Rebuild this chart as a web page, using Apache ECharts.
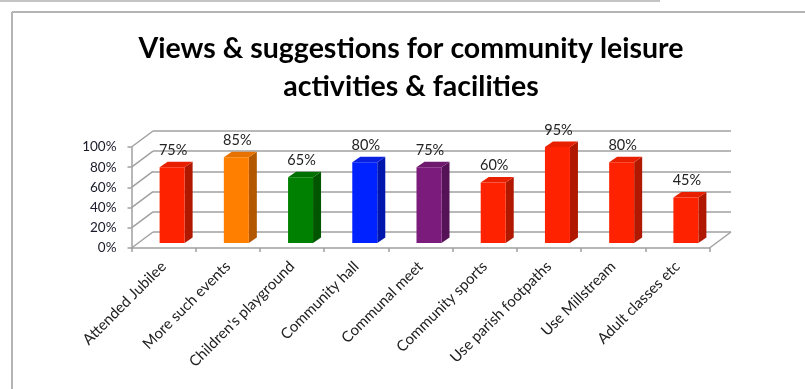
<!DOCTYPE html>
<html>
<head>
<meta charset="utf-8">
<script src="https://cdn.jsdelivr.net/npm/echarts@6/dist/echarts.min.js"></script>
<style>html,body{margin:0;padding:0;background:#fff}#c{width:805px;height:389px}</style>
</head>
<body>
<div id="c"></div>
<script>
const categories = ['Attended Jubilee','More such events',"Children's playground",'Community hall','Communal meet','Community sports','Use parish footpaths','Use Millstream','Adult classes etc'];
const values = [75, 85, 65, 80, 75, 60, 95, 80, 45];
const yTicks = [0, 20, 40, 60, 80, 100];
const titleLines = ['Views & suggestions for community leisure', 'activities & facilities'];

const barColors = ['#ff2200','#ff7f00','#008000','#0022ff','#7b1b7b','#ff2200','#ff2200','#ff2200','#ff2200'];
const barSides  = ['#b01800','#b35800','#005500','#0017ad','#561257','#b01800','#b01800','#b01800','#b01800'];
const barTops   = ['#e82000','#e87200','#007000','#0a20e0','#6e186e','#e82000','#e82000','#e82000','#e82000'];

const DX = 21.5, DY = -16;           // 3D depth offset of the back wall
const BX = 8.5, BY = -5, BW = 25;    // bar placement inside depth
const SDX = 8, SDY = -5.5;           // bar side/top depth
const FONT = 'Lato';
const GRID = '#a0a0a0';

const chart = echarts.init(document.getElementById('c'));
chart.setOption({
  animation: false,
  title: {
    text: titleLines.join('\n'),
    left: 411, top: 30, textAlign: 'center', padding: 0,
    textStyle: {fontFamily: FONT, fontWeight: 'bold', fontSize: 28.5, lineHeight: 38, color: '#000'}
  },
  graphic: [
    {type: 'line', shape: {x1: 0, y1: 1, x2: 660, y2: 1}, style: {stroke: '#c4c4c4', lineWidth: 2}},
    {type: 'line', shape: {x1: 12, y1: 12, x2: 805, y2: 12}, style: {stroke: '#b4b4b4', lineWidth: 2}},
    {type: 'line', shape: {x1: 12, y1: 12, x2: 12, y2: 389}, style: {stroke: '#b4b4b4', lineWidth: 2}}
  ],
  grid: [
    {left: 131.5, right: 95.5, top: 147, bottom: 141},
    {left: 131.5 + DX, right: 95.5 - DX, top: 147 + DY, bottom: 141 - DY}
  ],
  xAxis: [
    {type: 'category', gridIndex: 0, data: categories,
     axisLine: {lineStyle: {color: GRID, width: 1.5}},
     axisTick: {show: true, inside: false, length: 4, lineStyle: {color: GRID, width: 1.5}},
     axisLabel: {rotate: 45, fontFamily: FONT, fontSize: 15, color: '#222', margin: 16, interval: 0}},
    {type: 'category', gridIndex: 1, data: categories, show: false}
  ],
  yAxis: [
    {type: 'value', gridIndex: 0, min: 0, max: 100, interval: 20,
     axisLine: {show: true, lineStyle: {color: GRID, width: 1.5}},
     axisTick: {show: true, length: 4, lineStyle: {color: GRID, width: 1.5}},
     splitLine: {show: false},
     axisLabel: {formatter: '{value}%', fontFamily: FONT, fontSize: 13.5, color: '#1a1a2a', margin: 15, padding: [6,0,0,0]}},
    {type: 'value', gridIndex: 1, min: 0, max: 100, interval: 20,
     axisLine: {show: false}, axisTick: {show: false}, axisLabel: {show: false},
     splitLine: {show: true, lineStyle: {color: GRID, width: 1.5}}}
  ],
  series: [
    {
      type: 'custom', xAxisIndex: 0, yAxisIndex: 0, silent: true, z: 1,
      data: yTicks.map(v => [v]),
      renderItem: function (params, api) {
        const cs = params.coordSys;
        const y = api.coord([0, api.value(0)])[1];
        const kids = [{type: 'line', shape: {x1: cs.x, y1: y, x2: cs.x + DX, y2: y + DY},
          style: {stroke: GRID, lineWidth: 1.5}}];
        if (params.dataIndex === 0) {
          const xr = cs.x + cs.width;
          kids.push({type: 'line', shape: {x1: xr, y1: y, x2: xr + DX, y2: y + DY},
            style: {stroke: GRID, lineWidth: 1.5}});
        }
        return {type: 'group', children: kids};
      }
    },
    {
      type: 'custom', xAxisIndex: 0, yAxisIndex: 0, silent: true, z: 3,
      data: values.map((v, i) => [i, v]),
      renderItem: function (params, api) {
        const i = api.value(0), v = api.value(1);
        const p0 = api.coord([i, 0]);
        const p1 = api.coord([i, v]);
        const cx = p0[0] + BX;
        const xl = cx - BW / 2, xr = cx + BW / 2;
        const yb = p0[1] + BY, yt = p1[1] + BY;
        return {type: 'group', children: [
          {type: 'polygon', shape: {points: [[xr, yb], [xr + SDX, yb + SDY], [xr + SDX, yt + SDY], [xr, yt]]},
           style: {fill: barSides[i]}},
          {type: 'polygon', shape: {points: [[xl, yt], [xr, yt], [xr + SDX, yt + SDY], [xl + SDX, yt + SDY]]},
           style: {fill: barTops[i]}},
          {type: 'rect', shape: {x: xl, y: yt, width: BW, height: yb - yt},
           style: {fill: barColors[i]}},
          {type: 'text', x: cx + 1, y: yt - 17,
           style: {text: v + '%', fontFamily: FONT, fontSize: 14.5, fill: '#222',
                   align: 'center', verticalAlign: 'middle'}}
        ]};
      }
    }
  ]
});
</script>
</body>
</html>
